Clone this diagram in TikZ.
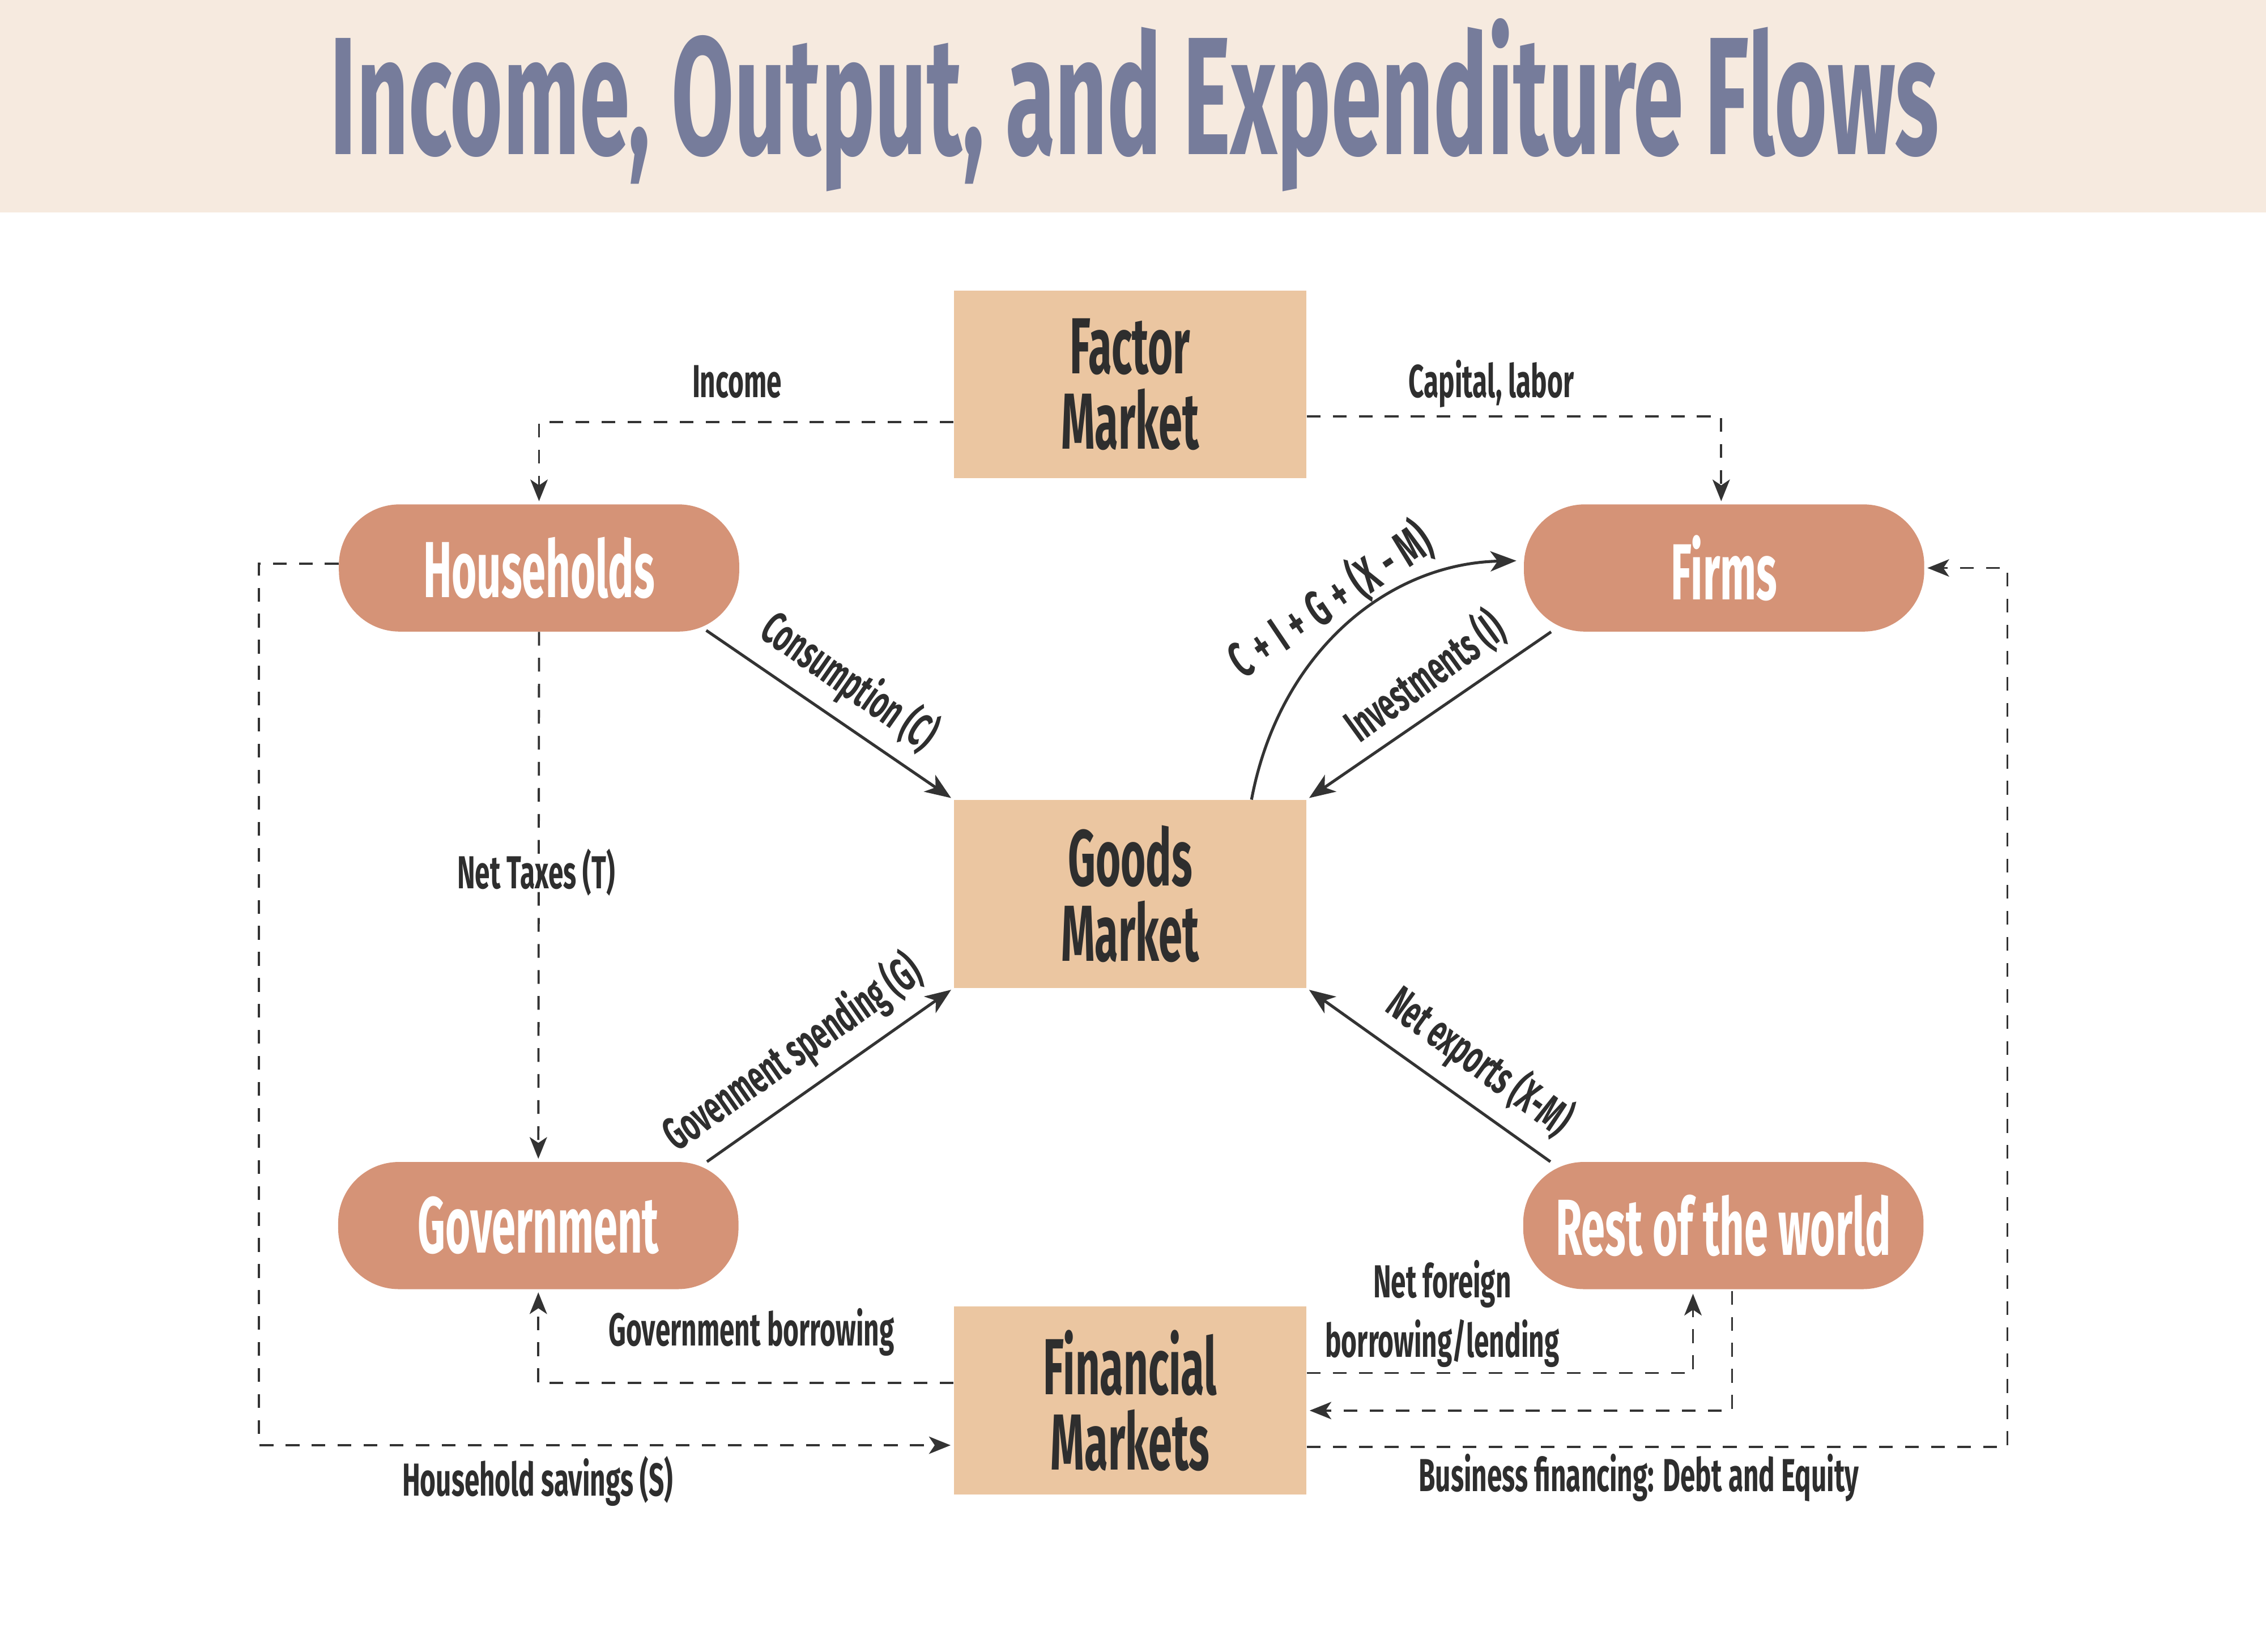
\documentclass[tikz,border=0pt]{standalone}
\usepackage{fontspec}
\usetikzlibrary{arrows.meta}
\newfontfamily\cf[FakeStretch=0.585]{Fira Sans}
\newfontfamily\cfn[FakeStretch=0.54]{Fira Sans}
\newfontfamily\cft[FakeStretch=0.54]{Fira Sans}
\definecolor{band}{HTML}{F6EADF}
\definecolor{titlec}{HTML}{767C9B}
\definecolor{boxc}{HTML}{EBC6A1}
\definecolor{pillc}{HTML}{D59377}
\definecolor{txt}{HTML}{2E2E2E}
\definecolor{ln}{HTML}{333333}
\begin{document}
\begin{tikzpicture}[x=1pt,y=-1pt,
  box/.style={rectangle, fill=boxc, minimum width=244pt, minimum height=130pt, inner sep=0pt,
    font=\cfn\bfseries\fontsize{55}{52}\selectfont, text=txt, align=center},
  pill/.style={rectangle, rounded corners=42pt, fill=pillc, minimum width=277pt, minimum height=88pt,
    inner sep=0pt, text=white, font=\cfn\bfseries\fontsize{55}{60}\selectfont},
  lbl/.style={font=\cf\bfseries\fontsize{32}{40}\selectfont, text=txt, inner sep=0pt},
  rlbl/.style={lbl, anchor=center, text height=22pt, text depth=7pt},
  dline/.style={draw=ln, line width=1.5pt, dash pattern=on 9.5pt off 8.5pt},
  sline/.style={draw=ln, line width=2pt},
  dtip/.style={-{Stealth[length=15pt,width=12pt,inset=4pt]}},
  stip/.style={-{Stealth[length=18pt,width=14pt,inset=5pt]}}
]
\useasboundingbox (0,0) rectangle (1568,1143);
\fill[band] (0,0) rectangle (1568,147);
\node[anchor=base, text=titlec, inner sep=0pt, font=\cft\bfseries\fontsize{116}{120}\selectfont] (title) at (785,107) {Income, Output, and Expenditure Flows};

% markets
\node[box] (factor) at (782,266) {Factor\\Market};
\node[box] (goods) at (782,618.5) {Goods\\Market};
\node[box] (fin) at (782,969) {Financial\\Markets};

% agents
\node[pill] (hh) at (373,393) {Households};
\node[pill] (firms) at (1193,393) {Firms};
\node[pill] (gov) at (372.5,848) {Government};
\node[pill] (rest) at (1192.5,848) {Rest of the world};

% factor market flows
\draw[dline, dtip] ([yshift=-26pt]factor.west) -| ([yshift=2pt]hh.north);
\draw[dline, dtip] ([yshift=-22pt]factor.east) -| ([xshift=-2pt,yshift=2pt]firms.north);
\node[lbl, anchor=base] (income) at (510,275) {Income};
\node[lbl, anchor=base] (caplab) at (1032,275) {Capital, labor};

% household savings
\coordinate (hsc) at (179,390);
\draw[dline, dtip] ([yshift=3pt]hh.west) -- (hsc) |- ([yshift=-31pt,xshift=-2pt]fin.west);
\node[lbl, anchor=base] (hsav) at (372,1035) {Household savings (S)};

% net taxes
\draw[dline, dtip] (hh.south) -- ([yshift=2pt]gov.north);
\node[lbl, anchor=base] (tax) at (371,615) {Net Taxes (T)};

% goods market flows
\draw[sline, stip, shorten >=2pt] ([xshift=-23pt,yshift=1pt]hh.south east) -- (goods.north west);
\node[rlbl, rotate=-35] (cons) at (586,474) {Consumption (C)};

\draw[sline, stip, shorten >=2pt] ([xshift=19pt]firms.south west) -- (goods.north east);
\node[rlbl, rotate=36] (inv) at (988,471) {Investments (I)};

\draw[sline, stip] ([xshift=84pt]goods.north) .. controls ([xshift=103pt,yshift=101pt]goods.north) and ([xshift=-95pt,yshift=3pt]firms.west) .. ([xshift=-5pt,yshift=5pt]firms.west);
\node[rlbl, rotate=34, font=\cf\bfseries\fontsize{35}{40}\selectfont] (cigxm) at (923,419) {C\hspace{6pt}+\hspace{6pt}I\hspace{6pt}+\hspace{6pt}G\hspace{6pt}+\hspace{6pt}(X\hspace{6pt}-\hspace{6pt}M)};

\draw[sline, stip, shorten >=2pt] ([xshift=-22pt]gov.north east) -- (goods.south west);
\node[rlbl, rotate=35] (gspend) at (550,731) {Govenment spending (G)};

\draw[sline, stip, shorten >=2pt] ([xshift=19pt]rest.north west) -- (goods.south east);
\node[rlbl, rotate=-36] (nx) at (1022,737) {Net exports (X-M)};

% financial market flows
\draw[dline, dtip] ([yshift=12pt]fin.west) -| ([yshift=-2pt]gov.south);
\node[lbl, anchor=base] (gborrow) at (520,931) {Government borrowing};

\draw[dline, dtip] ([yshift=19pt]fin.east) -| ([xshift=-21pt,yshift=-3pt]rest.south);
\draw[dline, dtip] ([xshift=6pt,yshift=-1pt]rest.south) |- ([yshift=-7pt,xshift=2pt]fin.east);
\node[lbl, anchor=base] (nf1) at (998,898) {Net foreign};
\node[lbl, anchor=base] (nf2) at (998,939) {borrowing/lending};

\coordinate (bfc) at (1389,1001);
\draw[dline, dtip] ([yshift=-32pt]fin.east) -- (bfc) |- ([xshift=2pt]firms.east);
\node[lbl, anchor=base] (bfin) at (1134,1032) {Business financing: Debt and Equity};
\end{tikzpicture}
\end{document}
